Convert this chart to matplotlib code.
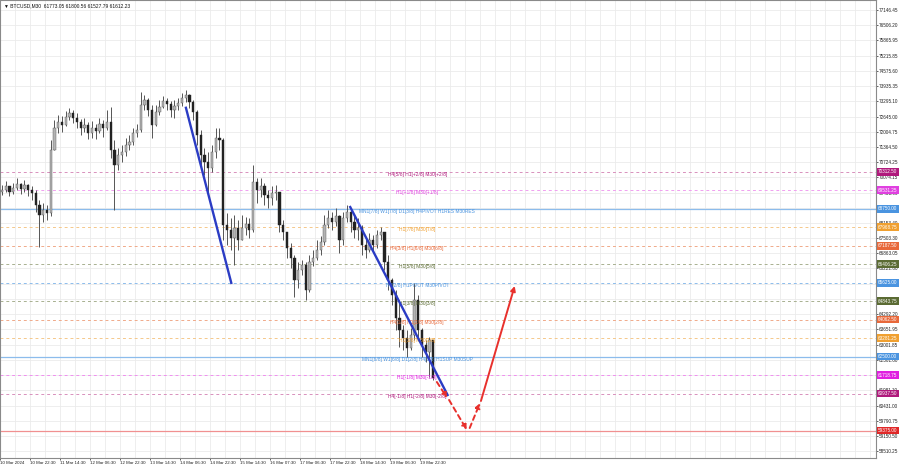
import matplotlib
matplotlib.use("Agg")
import matplotlib.pyplot as plt
import matplotlib.transforms as mtransforms
import numpy as np

plt.rcParams['font.family'] = ['Liberation Sans', 'DejaVu Sans']

# ---------------- data ----------------
symbol_header = "\u25BC BTCUSD,M30  61773.05 61800.56 61527.79 61612.23"

# aggregated candles (each = 4 x M30 bars), prices
open0 = 69455
closes = [69540, 69709, 69455, 69624, 69793, 69582, 69751, 69540, 69413, 68906,
          68483, 68695, 68568, 71230, 72160, 72413, 72287, 72625, 72794, 72582,
          72413, 72160, 72287, 71949, 72160, 72033, 72329, 72160, 72413, 71230,
          70596, 71019, 71146, 71441, 71568, 71949, 72075, 73132, 73343, 72920,
          72287, 72836, 73047, 73301, 73174, 72920, 73090, 73216, 73428, 73554,
          73259, 72836, 71864, 71019, 70723, 70469, 71146, 71737, 71653, 68061,
          67849, 67511, 67934, 67427, 67934, 68103, 67849, 69878, 69540, 69709,
          69328, 69202, 69413, 69455, 68061, 67765, 67089, 66666, 65736, 66159,
          66370, 65314, 66497, 66666, 67004, 67342, 68061, 68357, 68187, 68441,
          67427, 68357, 68610, 68187, 67849, 67934, 67216, 67004, 67427, 67216,
          67638, 67765, 66497, 65736, 65103, 64131, 63624, 63285, 62863, 63412,
          64891, 63624, 62990, 62694, 63201, 61612]
highs = [69751, 69920, 69709, 69835, 70047, 69835, 69962, 69793, 69709, 69540,
         69117, 68990, 68906, 71653, 72498, 72709, 72667, 72878, 73005, 72920,
         72794, 72540, 72582, 72413, 72456, 72329, 72582, 72498, 72920, 73047,
         71653, 71315, 71441, 71737, 71864, 72160, 72329, 73681, 73554, 73428,
         73132, 73132, 73343, 73512, 73428, 73301, 73343, 73428, 73639, 73766,
         73597, 73343, 72920, 72075, 71315, 71146, 71441, 72160, 72160, 71737,
         68568, 68357, 68483, 68272, 68483, 68399, 68357, 70596, 70047, 70047,
         69835, 69540, 69709, 69751, 68483, 68272, 67765, 67300, 66793, 66497,
         66582, 66497, 66793, 67004, 67427, 67596, 68483, 68695, 68610, 68779,
         68483, 68610, 68906, 68779, 68483, 68357, 68061, 67511, 67723, 67638,
         67849, 67976, 67765, 66793, 65821, 65314, 64891, 63835, 63624, 63708,
         65610, 65103, 63708, 63201, 63328, 61807]
lows = [69328, 69455, 69286, 69371, 69540, 69371, 69455, 69286, 69117, 68610,
        67131, 68187, 68272, 68441, 71230, 71949, 71991, 72244, 72498, 72371,
        72160, 71864, 71991, 71695, 71737, 71695, 71949, 71780, 72075, 70892,
        68695, 70385, 70723, 70977, 71230, 71441, 71780, 71991, 72920, 72667,
        71737, 72244, 72709, 73005, 72920, 72625, 72582, 72920, 73090, 73259,
        73005, 72498, 71441, 70596, 70174, 69413, 70300, 70892, 71230, 67427,
        67216, 67004, 66370, 67004, 67427, 67638, 67511, 67765, 68990, 69244,
        68906, 68779, 68906, 69117, 67765, 67427, 66666, 66244, 65018, 65398,
        65948, 64891, 65229, 66328, 66582, 66793, 67216, 67934, 67849, 68019,
        66877, 67216, 68187, 67765, 67511, 67427, 66793, 66666, 66920, 66920,
        67089, 67427, 66159, 65314, 64680, 63624, 62905, 62778, 62483, 62778,
        63201, 63201, 62483, 62272, 61638, 61511]
bars_per_candle = 4

# price axis ticks as printed on the right scale
price_ticks = [77146.45, 76506.20, 75865.95, 75215.85, 74575.60, 73935.35, 73295.10,
               72645.00, 72004.75, 71364.50, 70724.25, 70074.15, 69433.90, 68793.65,
               68153.40, 67503.30, 66863.05, 66222.80, 65582.55, 64932.45, 64292.20,
               63651.95, 63001.85, 62361.60, 61721.35, 61081.10, 60431.00, 59790.75,
               59150.50, 58510.25]

# time axis labels (bar index of M30 bars)
date_labels = ['10 Mar 2024', '10 Mar 22:30', '11 Mar 14:30', '12 Mar 06:30', '12 Mar 22:30',
               '13 Mar 14:30', '14 Mar 06:30', '14 Mar 22:30', '15 Mar 14:30', '16 Mar 07:30',
               '17 Mar 06:30', '17 Mar 22:30', '18 Mar 14:30', '19 Mar 06:30', '19 Mar 22:30']
date_bars = [0, 32, 64, 96, 128, 160, 192, 224, 256, 288, 320, 352, 384, 416, 448]

# Murrey math levels
level_prices = [70312.50, 69531.25, 68750.00, 67968.75, 67187.50, 66406.25, 65625.00,
                64843.75, 64062.50, 63281.25, 62500.00, 61718.75, 60937.50, 59375.00]
level_texts = ['H4[5/8] H1[+2/8] M30[+2/8]',
               'H1[+1/8] M30[+1/8]',
               'MN1[7/8] W1[7/8] D1[3/8] H4PIVOT H1RES M30RES',
               'H1[7/8] M30[7/8]',
               'H4[3/8] H1[6/8] M30[6/8]',
               'H1[5/8] M30[5/8]',
               'H4[2/8] H1PIVOT M30PIVOT',
               'H1[3/8] M30[3/8]',
               'H4[1/8] H1[2/8] M30[2/8]',
               'H1[1/8] M30[1/8]',
               'MN1[6/8] W1[6/8] D1[2/8] H4[0/8] H1SUP M30SUP',
               'H1[-1/8] M30[-1/8]',
               'H4[-1/8] H1[-2/8] M30[-2/8]',
               '']
level_colors = ['#b01a7c', '#e040e0', '#4a94e0', '#f0a030', '#e8683a', '#5b6b33', '#4a94e0',
                '#5b6b33', '#e8683a', '#f0a030', '#4a94e0', '#e020e0', '#b01a7c', '#e02828']
line_colors = ['#d890bc', '#f0a0f0', '#8cbcec', '#f5c88a', '#f0aa8a', '#a8b090', '#8cbcec',
               '#a8b090', '#f0aa8a', '#f5c88a', '#8cbcec', '#f090f0', '#d890bc', '#f09090']
level_solid = [False, False, True, False, False, False, False,
               False, False, False, True, False, False, True]

# trend lines (bar index, price)
trend_x0 = [198, 373]
trend_p0 = [73062, 68864]
trend_x1 = [247, 478]
trend_p1 = [65567, 60834]

# forecast arrows (bar index, price)
arrow_x0 = [466, 479, 501, 513]
arrow_p0 = [61426, 60666, 59482, 60624]
arrow_x1 = [477, 498, 512, 549]
arrow_p1 = [60750, 59400, 60539, 65483]
arrow_dashed = [True, True, True, False]

# ---------------- figure ----------------
W, H = 900, 468
fig = plt.figure(figsize=(W / 100, H / 100), dpi=100)
ax = fig.add_axes([0.0, 10 / H, 876 / W, 458 / H])
ax.set_facecolor('white')
ax.set_xlim(0, 934.4)
ax.set_ylim(58214.4, 77569.0)

# grid
for gx in np.arange(16, 934, 16):
    ax.axvline(gx, color='#ebebeb', lw=0.6, zorder=0)
for t in price_ticks:
    ax.axhline(t, color='#ebebeb', lw=0.6, zorder=0)

# levels
for p, txt, col, lcol, solid in zip(level_prices, level_texts, level_colors, line_colors, level_solid):
    if solid:
        ax.axhline(p, color=lcol, lw=0.9, zorder=1)
    else:
        ax.axhline(p, color=lcol, lw=0.7, ls=(0, (3, 3)), zorder=1)
    if txt:
        ax.annotate(txt, xy=(445, p), xytext=(0, -2.5), textcoords='offset pixels',
                    ha='center', va='center', fontsize=3.5, color=col, zorder=4)

# candles
closes_a = np.array(closes, float)
opens_a = np.concatenate([[open0], closes_a[:-1]])
highs_a = np.maximum(np.array(highs, float), np.maximum(opens_a, closes_a))
lows_a = np.minimum(np.array(lows, float), np.minimum(opens_a, closes_a))
xs = np.arange(len(closes)) * bars_per_candle + bars_per_candle / 2
ax.vlines(xs, lows_a, highs_a, color='#555555', lw=0.7, zorder=3)
up = closes_a >= opens_a
body_b = np.minimum(opens_a, closes_a)
body_h = np.maximum(np.abs(closes_a - opens_a), 25)
ax.bar(xs[up], body_h[up], bottom=body_b[up], width=2.4, color='#b4b4b4',
       edgecolor='#555555', linewidth=0.3, zorder=3.2)
ax.bar(xs[~up], body_h[~up], bottom=body_b[~up], width=2.4, color='#222222',
       edgecolor='#222222', linewidth=0.3, zorder=3.2)

# trend lines
for x0, p0, x1, p1 in zip(trend_x0, trend_p0, trend_x1, trend_p1):
    ax.plot([x0, x1], [p0, p1], color='#2b3cc4', lw=1.7, zorder=5, solid_capstyle='butt')

# arrows
for x0, p0, x1, p1, d in zip(arrow_x0, arrow_p0, arrow_x1, arrow_p1, arrow_dashed):
    ax.annotate('', xy=(x1, p1), xytext=(x0, p0),
                arrowprops=dict(arrowstyle='-|>', color='#e8302c', lw=1.4,
                                linestyle=(0, (2.5, 2)) if d else '-',
                                mutation_scale=7, shrinkA=0, shrinkB=0),
                zorder=6)

# right price labels
trans = mtransforms.blended_transform_factory(ax.transAxes, ax.transData)
for p, col in zip(level_prices, level_colors):
    ax.text(1.0025, p, f'{p:.2f}', transform=trans, ha='left', va='center',
            fontsize=3.3, color='white', clip_on=False, zorder=20,
            bbox=dict(boxstyle='square,pad=0.3', fc=col, ec='none'))

# y axis on right
ax.yaxis.tick_right()
ax.set_yticks(price_ticks)
ax.set_yticklabels([f'{t:.2f}' for t in price_ticks])
ax.tick_params(axis='y', labelsize=3.3, length=1.5, width=0.5, pad=0.6, colors='#222222')

# x axis
ax.set_xticks(date_bars)
ax.set_xticklabels(date_labels, ha='left')
ax.tick_params(axis='x', labelsize=3.2, length=1.5, width=0.5, pad=1.0, colors='#222222')

for s in ax.spines.values():
    s.set_color('#8a8a8a')
    s.set_linewidth(0.8)

# header
ax.text(0.004, 0.992, symbol_header, transform=ax.transAxes, ha='left', va='top',
        fontsize=3.5, color='#111111', zorder=20)

fig.savefig('out.png', dpi=100, facecolor='white')
